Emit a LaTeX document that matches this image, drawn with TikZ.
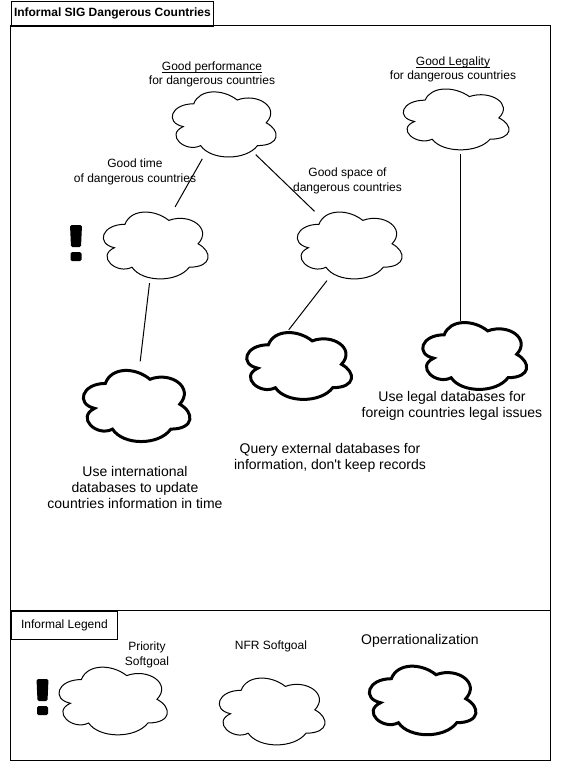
\documentclass[tikz,border=0pt]{standalone}
\usepackage{fontspec}
\setmainfont{Liberation Sans}
\usetikzlibrary{shapes.geometric}
\newcommand{\undl}[1]{\setbox0\hbox{#1}\rlap{\rule[-2pt]{\wd0}{0.8pt}}\box0}

\tikzset{
  pics/softgoal/.style 2 args={code={
    \node [ellipse, minimum width=#1pt, minimum height=#2pt, inner sep=0pt] (-e) {};
    \draw [pic actions, x=#1pt, y=-#2pt] (-.25,-.25)
      .. controls (-.45,-.25) and (-.5,0) .. (-.34,.05)
      .. controls (-.5,.16) and (-.32,.4) .. (-.19,.3)
      .. controls (-.1,.5) and (.2,.5) .. (.3,.3)
      .. controls (.5,.3) and (.5,.1) .. (.375,0)
      .. controls (.5,-.2) and (.3,-.4) .. (.125,-.3)
      .. controls (0,-.45) and (-.2,-.45) .. (-.25,-.25) -- cycle;
  }},
  pics/bang/.style={code={
    \fill [rounded corners=1.5pt] (-6,-18) -- (6,-18) -- (5,4) -- (-5,4) -- cycle;
    \fill [rounded corners=1.5pt] (-5.5,9) rectangle (5.5,18);
  }},
  op/.style={line width=3pt},
  txt/.style={align=center, inner sep=0pt, font=\fontsize{12}{14.5}\selectfont},
  big/.style={align=center, inner sep=0pt, font=\fontsize{14}{16}\selectfont}
}

\begin{document}
\begin{tikzpicture}[x=1pt, y=-1pt, line width=1pt]
\useasboundingbox (0,0) rectangle (561,771);
% frames
\draw (10.5,25.5) rectangle (550.5,610.5);
\draw (10.5,610.5) rectangle (550.5,760.5);
\node [draw, anchor=north west, inner xsep=3pt, minimum height=25pt, font=\fontsize{12}{14}\selectfont\bfseries] (sig) at (10.5,0.5) {Informal SIG Dangerous Countries};
\node [draw, anchor=north west, inner xsep=10pt, minimum height=28pt, font=\fontsize{12}{14}\selectfont] (legend) at (10.5,610.5) {Informal Legend};

% softgoals
\pic (top) at (222.7,122.8) {softgoal={116}{76}};
\pic (time) at (154.2,243.8) {softgoal={117}{78}};
\pic (space) at (348.2,243.8) {softgoal={117}{78}};
\pic (leg) at (454.6,117.9) {softgoal={118}{71}};
\pic (warn) at (76,243) {bang};

% operationalizations
\pic [op] (intl) at (135.1,404.2) {softgoal={119}{83}};
\pic [op] (query) at (297.6,364.3) {softgoal={117}{78}};
\pic [op] (legop) at (473.2,354.3) {softgoal={116}{78}};

\draw (top-e) -- (time-e);
\draw (top-e) -- (space-e);
\draw (time-e) -- (intl-e);
\draw [shorten >=-7.5pt] (space-e.240) -- (query-e.96);
\draw [shorten >=-7.5pt] ([xshift=6pt]leg-e.south) -- ([xshift=6pt]leg-e.south |- legop-e.north);

\node [txt] (perf) at (212,74.5) {\undl{Good performance}\\for dangerous countries};
\node [txt] (timelbl) at (135,172) {Good time\\of dangerous countries};
\node [txt] (spacelbl) at (347.5,181) {Good space of\\dangerous countries};
\node [txt] (legality) at (453,69.5) {\undl{Good Legality}\\for dangerous countries};
\node [big] (intltxt) at (135,487.5) {Use international\\databases to update\\countries information in time};
\node [big] (querytxt) at (330,458) {Query external databases for\\information, don\textquotesingle t keep records};
\node [big] (legtxt) at (452,405.5) {Use legal databases for\\foreign countries legal issues};

% legend
\pic (lwarn) at (42.5,697) {bang};
\pic (lprio) at (111.6,699.3) {softgoal={121}{79}};
\pic (lnfr) at (270.6,709.8) {softgoal={118}{78}};
\pic [op] (lop) at (421.1,698.7) {softgoal={119}{80}};
\node [txt] (prio) at (147,655) {Priority\\Softgoal};
\node [txt] (nfr) at (271,646) {NFR Softgoal};
\node [big] (oplbl) at (420,641) {Operrationalization};
\end{tikzpicture}
\end{document}
